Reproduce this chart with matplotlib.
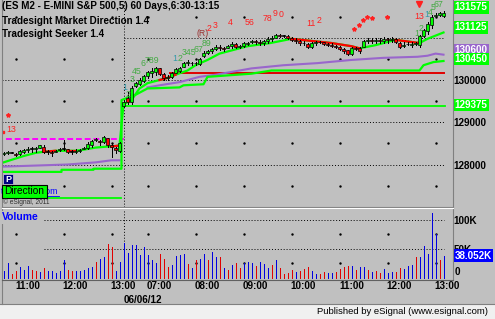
import numpy as np
import matplotlib.pyplot as plt

W, H = 495, 319
BG = '#c0c0c0'
plt.rcParams['font.family'] = ['Liberation Sans', 'DejaVu Sans']

# 5 minute bars: day 1 10:30-12:55 is idx 0-29, day 2 (06/06/12) from idx 30
opn = [128250, 128275, 128275, 128250, 128250, 128300, 128350, 128375, 128375, 128400,
       128425, 128300, 128300, 128300, 128350, 128375, 128375, 128300, 128300, 128325,
       128375, 128400, 128450, 128575, 128550, 128525, 128625, 128450, 128400, 128325,
       129375, 129575, 129475, 129850, 129900, 129975, 130100, 130175, 130200, 130275,
       130150, 130050, 130075, 130175, 130225, 130300, 130400, 130400, 130400, 130375,
       130575, 130650, 130675, 130725, 130775, 130750, 130750, 130800, 130850, 130775,
       130800, 130850, 130900, 130925, 130900, 130875, 130925, 130975, 131000, 131075,
       131050, 131050, 131000, 130950, 130925, 130875, 130850, 130775, 130875, 130900,
       130900, 130850, 130825, 130800, 130775, 130725, 130700, 130625, 130750, 130750,
       130775, 130925, 130950, 130925, 130950, 130925, 130975, 130950, 130975, 130875,
       130800, 130850, 130825, 130850, 130825, 131050, 131150, 131300, 131525, 131550, 131525]
hig = [128300, 128325, 128300, 128275, 128350, 128375, 128425, 128425, 128425, 128450,
       128450, 128350, 128325, 128350, 128400, 128575, 128375, 128350, 128375, 128375,
       128425, 128525, 128575, 128625, 128575, 128675, 128625, 128500, 128425, 128525,
       129525, 129725, 129850, 129950, 130050, 130125, 130225, 130275, 130300, 130275,
       130175, 130125, 130200, 130275, 130300, 130425, 130475, 130425, 130425, 130525,
       130675, 130700, 130750, 130825, 130825, 130775, 130825, 130900, 130875, 130825,
       130900, 130900, 130950, 130950, 130950, 130950, 131025, 131050, 131100, 131100,
       131075, 131075, 131025, 131000, 130950, 130925, 130875, 130900, 130925, 130925,
       130900, 130875, 130875, 130825, 130800, 130750, 130700, 130775, 130775, 130775,
       130950, 131000, 131000, 131000, 131000, 131025, 131000, 131025, 131000, 130900,
       130900, 130900, 130900, 130900, 131075, 131200, 131375, 131550, 131575, 131600, 131625]
low = [128225, 128250, 128275, 128200, 128225, 128275, 128300, 128300, 128300, 128400,
       128275, 128250, 128200, 128300, 128325, 128350, 128275, 128250, 128275, 128300,
       128375, 128375, 128425, 128550, 128450, 128500, 128425, 128175, 128275, 128300,
       129350, 129425, 129425, 129825, 129875, 129950, 130050, 130075, 130125, 130125,
       130000, 130000, 130050, 130175, 130200, 130300, 130350, 130350, 130350, 130350,
       130550, 130625, 130650, 130700, 130700, 130675, 130750, 130750, 130750, 130750,
       130775, 130825, 130875, 130850, 130825, 130825, 130875, 130925, 131000, 131025,
       131025, 130975, 130925, 130875, 130825, 130825, 130750, 130750, 130825, 130875,
       130825, 130800, 130775, 130750, 130700, 130650, 130600, 130600, 130700, 130650,
       130775, 130875, 130875, 130875, 130875, 130875, 130875, 130900, 130875, 130750,
       130775, 130825, 130775, 130825, 130775, 131025, 131100, 131225, 131500, 131525, 131500]
cls = [128275, 128300, 128275, 128225, 128325, 128350, 128375, 128375, 128400, 128450,
       128300, 128300, 128275, 128325, 128375, 128375, 128300, 128300, 128325, 128350,
       128400, 128475, 128550, 128600, 128525, 128650, 128450, 128425, 128350, 128500,
       129475, 129475, 129800, 129925, 130000, 130100, 130200, 130225, 130275, 130150,
       130050, 130075, 130175, 130250, 130275, 130400, 130425, 130400, 130400, 130500,
       130650, 130675, 130725, 130775, 130750, 130725, 130800, 130850, 130775, 130800,
       130875, 130875, 130925, 130900, 130875, 130925, 130975, 131000, 131075, 131050,
       131050, 131000, 130950, 130925, 130875, 130875, 130775, 130875, 130900, 130900,
       130850, 130825, 130800, 130775, 130725, 130675, 130625, 130750, 130725, 130675,
       130925, 130950, 130925, 130950, 130925, 130975, 130950, 130975, 130900, 130775,
       130825, 130850, 130850, 130875, 131050, 131175, 131325, 131500, 131550, 131575, 131575]

# volume in thousands, b = up volume, r = down volume
vol_k = [12.2, 25.0, 6.4, 11.0, 18.6, 13.4, 20.3, 13.4, 11.0, 9.9,
         16.8, 11.6, 11.0, 8.1, 12.2, 30.8, 13.4, 11.0, 11.6, 11.6,
         12.8, 17.4, 18.6, 27.3, 31.9, 36.0, 58.1, 52.3, 11.6, 26.7,
         59.2, 41.8, 55.7, 55.7, 39.5, 52.3, 39.5, 30.8, 26.1, 40.1,
         32.5, 19.2, 22.1, 37.7, 38.9, 40.1, 23.8, 16.8, 30.8, 32.5,
         40.1, 30.8, 44.7, 36.0, 36.0, 16.8, 13.4, 22.1, 25.0, 16.8,
         26.1, 27.3, 25.0, 20.3, 27.3, 23.8, 16.8, 22.1, 30.8, 16.8,
         6.4, 8.1, 13.4, 9.9, 11.6, 15.1, 19.2, 11.6, 6.4, 6.4,
         9.9, 8.1, 8.1, 9.9, 15.1, 18.6, 20.3, 20.3, 13.4, 18.6,
         19.2, 13.4, 9.9, 12.2, 8.1, 15.1, 8.1, 9.9, 9.9, 16.8,
         15.1, 20.3, 22.1, 36.0, 36.0, 55.2, 41.2, 110.9, 76.1, 30.8, 38.052]
vol_dir = ("bbrrbbbrrb" "rbbbbbrrbb" "bbbrbbrrbb" "bbbbbbb"
           "bbrrrbbbbr" "brbbrbbrbr" "brrbbbrbbb" "rbrrrrbrrr"
           "bbrrbbrrrr" "brbbrbrrbb" "brrbbbrbbb" "bbrb")

# Market Direction line (green, red while direction is down)
dir_x = [0, 5, 8, 10, 13, 16, 18, 20, 23, 26, 27, 29,
         30, 32, 34, 36, 39, 41, 43, 46, 48, 51, 54, 57, 61, 66.7,
         72, 77, 82, 87, 89, 93, 98, 104, 106, 108, 110]
dir_y = [128050, 128200, 128275, 128300, 128325, 128325, 128325, 128350, 128400, 128425, 128425, 128450,
         129425, 129525, 129800, 129925, 130000, 130050, 130125, 130225, 130350, 130475, 130625, 130700, 130800, 130875,
         130975, 130925, 130875, 130800, 130750, 130825, 130950, 130875, 130975, 131050, 131125]
dir_red = [(10, 13), (16, 18), (27, 29), (39, 43), (72, 89), (98, 104)]

# Seeker lower green line
seek_x = [0, 14.5, 14.5, 22.5, 22.5, 29.5, 29.5, 33, 36, 44, 45, 50, 51, 62, 67, 104, 105, 107.5, 110]
seek_y = [127825, 127825, 127875, 127875, 127900, 127900, 129525, 129650, 129800, 129825, 129875,
          129900, 130075, 130150, 130225, 130225, 130350, 130425, 130450]

# Seeker purple line, per day
pur1_x = [0, 8, 16, 23, 27, 29]
pur1_y = [127950, 127975, 128000, 128050, 128100, 128100]
pur2_x = [36, 39, 44, 49, 53, 62, 70, 78.5, 87, 95, 103.5, 106, 108, 110]
pur2_y = [129825, 129875, 129950, 130075, 130125, 130275, 130350, 130400, 130475, 130525,
          130550, 130575, 130625, 130600]

red_level = 130175
magenta_level = 128600
floor_d1, floor_d2 = 127200, 129375

price_ticks = [128000, 129000, 130000]
grid_levels = [128000, 129000, 130000, 131000]
half_levels = [127500, 128500, 129500, 130500, 131500]
dot_x = [3, 15, 27, 36, 48, 60, 72, 84, 96, 108]

time_pos = [6, 18, 30, 39, 51, 63, 75, 87, 99, 111]
time_lab = ['11:00', '12:00', '13:00', '07:00', '08:00', '09:00', '10:00', '11:00', '12:00', '13:00']

# count / signal annotations: text, bar index, price, colour
GRN, TEAL, RED = '#44aa44', '#3399aa', '#ff2020'
counts = [('1', 30.2, 129827, TEAL), ('2', 31.1, 129662, GRN), ('3', 32.1, 130017, GRN),
          ('45', 33.3, 130213, GRN), ('6', 34.85, 130395, GRN), ('789', 37.2, 130457, GRN),
          ('1', 42.9, 130514, TEAL), ('2', 44.2, 130521, GRN), ('345', 46.4, 130646, GRN),
          ('67', 48.8, 130727, GRN), ('89', 50.8, 130869, GRN),
          ('(R)', 49.9, 131105, '#993333'), ('2', 51.5, 131231, RED), ('3', 52.8, 131302, RED),
          ('4', 56.8, 131373, RED), ('56', 61.4, 131373, RED), ('78', 65.9, 131460, RED),
          ('9', 67.9, 131574, RED), ('0', 69.5, 131539, RED), ('11', 76.8, 131342, RED),
          ('2', 78.8, 131404, RED), ('13', 104.05, 131515, RED),
          ('1', 103.2, 131105, GRN), ('2', 104.3, 131224, GRN), ('1', 105.7, 131539, TEAL),
          ('4', 106.7, 131598, GRN), ('5', 107.3, 131716, GRN), ('67', 108.8, 131787, GRN),
          ('13', 1.9, 128833, RED)]
star_x = [87.7, 88.9, 89.9, 90.9, 92.05, 95.9, 1.0]
star_y = [131200, 131314, 131432, 131484, 131468, 131484, 129172]

# right-side value boxes: value, face colour, pixel nudge
value_boxes = [(131575, '#00ff00', 6), (131125, '#00ff00', 5), (130600, '#9966cc', 4.5),
               (130450, '#00ff00', 2), (129375, '#00ff00', 1.4)]

opn, hig, low, cls = map(np.array, (opn, hig, low, cls))
idx = np.arange(len(cls))

fig = plt.figure(figsize=(W / 100, H / 100), dpi=100, facecolor=BG)


def px_axes(x0, y0, x1, y1, **kw):
    return fig.add_axes([x0 / W, 1 - y1 / H, (x1 - x0) / W, (y1 - y0) / H], **kw)


ax = px_axes(2, 0, 452, 207)
axv = px_axes(2, 209, 452, 279)
for a in (ax, axv):
    a.set_facecolor(BG)
    for s in a.spines.values():
        s.set_visible(False)
    a.set_xlim(-0.375, 112.125)
ax.set_ylim(126994, 131894)
axv.set_ylim(-2.24, 118.4)

dots = (0, (1, 2))
# price panel grid
ax.hlines(grid_levels[:3], -0.3, 110, colors='black', linestyles=dots, lw=0.7, zorder=1)
ax.hlines(grid_levels[3], 30, 110, colors='black', linestyles=dots, lw=0.7, zorder=1)
gx, gy = np.meshgrid(dot_x, half_levels)
ax.plot(gx.ravel(), gy.ravel(), ls='none', marker='s', ms=0.7, color='black', zorder=1)
ax.axvline(30, color='black', ls=dots, lw=0.7, zorder=1)

# indicator lines
ax.plot([-0.3, 29.3], [floor_d1] * 2, color='#00ff00', lw=1.3, zorder=2)
ax.plot([30, 110.4], [floor_d2] * 2, color='#00ff00', lw=1.3, zorder=2)
ax.plot([0.7, 30], [magenta_level] * 2, color='#ff00ff', lw=1.4, ls=(0, (3, 1.5)), zorder=2)
ax.plot([41.7, 110], [red_level] * 2, color='#e00000', lw=1.4, zorder=2)
ax.plot(pur1_x, pur1_y, color='#9966cc', lw=1.5, zorder=2)
ax.plot(pur2_x, pur2_y, color='#9966cc', lw=1.5, zorder=2)
ax.plot(seek_x, seek_y, color='#00ff00', lw=1.6, zorder=2.5)
ax.plot(dir_x, dir_y, color='#00ff00', lw=1.6, zorder=3)
for lo, hi in dir_red:
    seg = [(x, y) for x, y in zip(dir_x, dir_y) if lo <= x <= hi]
    ax.plot([p[0] for p in seg], [p[1] for p in seg], color='#ff0000', lw=1.6, zorder=3.1)

# candles
ax.vlines(idx, low, hig, color='black', lw=0.72, antialiased=False, zorder=4)
body_col = np.where(cls > opn, '#00ff00', np.where(cls < opn, '#ff0000', 'black'))
ax.bar(idx, np.maximum(np.abs(cls - opn), 10), bottom=np.minimum(opn, cls), width=0.7,
       color=body_col, edgecolor='black', linewidth=0.5, zorder=5)

# signals
for t, x, y, c in counts:
    ax.text(x, y, t, color=c, fontsize=6.3, ha='center', va='center', zorder=6)
ax.plot(star_x, star_y, ls='none', marker='*', ms=3, color='#ff2020', zorder=6)
ax.plot([103.9], [131800], ls='none', marker='v', ms=4.5, color='#ff2020', zorder=6)
ax.plot([-0.15], [128781], ls='none', marker='s', ms=1.8, color='#ff2020', zorder=6)

# price axis labels
ax.set_xticks([])
ax.yaxis.tick_right()
ax.set_yticks(price_ticks)
ax.set_yticklabels([str(t) for t in price_ticks])
ax.tick_params(axis='y', length=0, pad=1.2, labelsize=7.1)
for lab in ax.get_yticklabels():
    lab.set_fontweight('bold')
ytr = ax.get_yaxis_transform()
for val, fc, dy in value_boxes:
    ax.annotate(str(val), xy=(1, val), xycoords=ytr, xytext=(2.5, dy), textcoords='offset pixels',
                ha='left', va='center', fontsize=7.1, fontweight='bold', color='white',
                bbox=dict(boxstyle='square,pad=0.12', fc=fc, ec='none'), annotation_clip=False, zorder=8)

# volume
vcol = ['#0000e0' if d == 'b' else '#e00000' for d in vol_dir]
axv.vlines(idx, 0, vol_k, colors=vcol, lw=0.72, antialiased=False, zorder=3)
axv.hlines([50, 100], 10, 110, colors='black', linestyles=dots, lw=0.7, zorder=1)
vx, vy = np.meshgrid(dot_x, [25, 75])
axv.plot(vx.ravel(), vy.ravel(), ls='none', marker='s', ms=0.7, color='black', zorder=1)
axv.axvline(30, color='black', ls=dots, lw=0.7, zorder=1)
axv.yaxis.tick_right()
axv.set_yticks([50, 100])
axv.set_yticklabels(['50K', '100K'])
axv.tick_params(axis='y', length=0, pad=1.2, labelsize=7.1)
axv.set_xticks(time_pos)
axv.set_xticklabels(time_lab)
axv.tick_params(axis='x', length=0, pad=1.5, labelsize=7.1)
for lab in axv.get_yticklabels() + axv.get_xticklabels():
    lab.set_fontweight('bold')
vtr = axv.get_yaxis_transform()
axv.annotate('0', xy=(1, 0), xycoords=vtr, xytext=(2.5, 6), textcoords='offset pixels',
             ha='left', va='center', fontsize=7.1, fontweight='bold', annotation_clip=False)
axv.annotate('38.052K', xy=(1, vol_k[-1]), xycoords=vtr, xytext=(2.5, 0),
             textcoords='offset pixels', ha='left', va='center', fontsize=7.1, fontweight='bold',
             color='white', bbox=dict(boxstyle='square,pad=0.12', fc='#0000ff', ec='none'),
             annotation_clip=False, zorder=8)
axv.text(30, -0.3, '06/06/12', transform=axv.get_xaxis_transform(), ha='left', va='center',
         fontsize=7.1, fontweight='bold')

# frame and captions in pixel space
ov = fig.add_axes([0, 0, 1, 1], zorder=10)
ov.set_xlim(0, W)
ov.set_ylim(H, 0)
ov.axis('off')
ov.patch.set_alpha(0)
ov.add_patch(plt.Rectangle((0, 304), W, 15, fc='#f0f0f0', ec='none', zorder=1))
ov.plot([0, W], [303.5, 303.5], color='#808080', lw=0.8)
ov.plot([1.5, 1.5], [0, 303.5], color='#808080', lw=0.8)
ov.plot([452.5, 452.5], [0, 279.5], color='#808080', lw=0.8)
ov.plot([1.5, 452.5], [206.5, 206.5], color='#808080', lw=0.8)
ov.plot([1.5, 452.5], [208, 208], color='white', lw=0.8)
ov.plot([1.5, 452.5], [279.5, 279.5], color='#606060', lw=0.8)
ov.text(488, 311, 'Published by eSignal (www.esignal.com)', ha='right', va='center', fontsize=6.8)

for y, t in [(6, '(ES M2 - E-MINI S&P 500,5) 60 Days,6:30-13:15'),
             (21, 'Tradesight Market Direction 1.4'), (34, 'Tradesight Seeker 1.4')]:
    ov.text(2, y, t, ha='left', va='center', fontsize=7.1, fontweight='bold')
ov.text(2, 217.5, 'Volume', ha='left', va='center', fontsize=7.5, fontweight='bold', color='#0000ff',
        bbox=dict(boxstyle='square,pad=0.1', fc=BG, ec='none'))

# link text partly hidden under the Direction button
ov.text(58.5, 191, 'tradesight.com', ha='right', va='center', fontsize=6.3, color='#0000ff', zorder=2)
ov.plot([40, 58.5], [195.5, 195.5], color='#0000ff', lw=0.6, zorder=2)
ov.add_patch(plt.Rectangle((3, 174), 10, 9.5, fc='#000080', ec='#d0d0d0', lw=0.5, zorder=3))
ov.text(8, 179, 'P', ha='center', va='center', fontsize=6.5, fontweight='bold', color='white', zorder=4)
ov.add_patch(plt.Rectangle((2, 185), 44.5, 12.5, fc='#00ff00', ec='black', lw=0.8, zorder=3))
ov.text(24.5, 191.5, 'Direction', ha='center', va='center', fontsize=7.3, zorder=4)
ov.text(3, 201.7, '\u00a9 eSignal, 2011', ha='left', va='center', fontsize=4.8, color='#303030', zorder=4)

fig.savefig('out.png', dpi=100, facecolor=BG)
